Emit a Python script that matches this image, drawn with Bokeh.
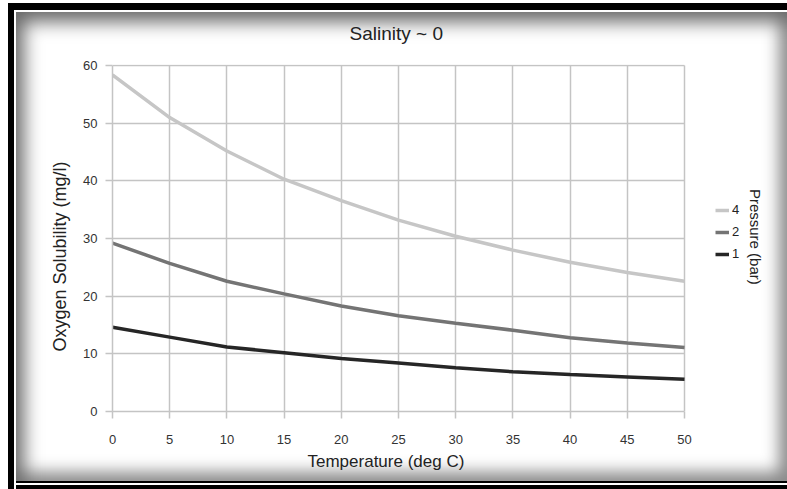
import math
from bokeh.plotting import figure
from bokeh.models import Legend, LegendItem, Label, Title, FixedTicker, Range1d
from bokeh.embed import file_html
from bokeh.resources import INLINE

# ---- data ----
temperature = [0, 5, 10, 15, 20, 25, 30, 35, 40, 45, 50]
p4_bar = [58.4, 51.0, 45.2, 40.3, 36.6, 33.2, 30.4, 28.0, 25.9, 24.1, 22.6]
p2_bar = [29.2, 25.7, 22.6, 20.4, 18.3, 16.6, 15.3, 14.1, 12.8, 11.9, 11.1]
p1_bar = [14.6, 12.9, 11.2, 10.2, 9.2, 8.4, 7.6, 6.9, 6.4, 6.0, 5.6]
series_names = ["4", "2", "1"]
x_ticks = [0, 5, 10, 15, 20, 25, 30, 35, 40, 45, 50]
y_ticks = [0, 10, 20, 30, 40, 50, 60]

FONT = "Liberation Sans"
GRID = "#c4c4c4"

# the frame is widened past x=50 so that the legend (which sits outside the
# plotted area in the reference) is not clipped; grid/axis are bounded to 0..50
PLOT_W = 572          # pixels for 0..50
FRAME_W = 660
X_END = 50 * FRAME_W / PLOT_W

p = figure(width=787, height=489, frame_width=FRAME_W, frame_height=347,
           output_backend="svg", toolbar_location=None,
           x_range=Range1d(0, X_END), y_range=Range1d(0, 60.2),
           min_border_left=112, min_border_right=15,
           min_border_top=61, min_border_bottom=81)

p.border_fill_color = None
p.background_fill_color = None
p.outline_line_color = None
p.styles = {
    "background-color": "white",
    "box-shadow": ", ".join([
        "inset 8px 3px 0 0 #fff",
        "inset 14px 10px 0 0 #000",
        "inset 16px 12px 0 0 #fff",
        "inset 0 -7px 0 0 #000",
        "inset 0 -9px 0 0 #fff",
        "inset 0 -11px 0 0 #000",
        "inset 24px 22px 18px 0 #6a6a6a",
        "inset -8px -20px 16px 0 #8a8a8a",
    ]),
}

p.title.text = "Salinity ~ 0"
p.title.align = "left"
p.title.offset = 237
p.title.text_font = FONT
p.title.text_font_size = "19px"
p.title.text_font_style = "normal"
p.title.text_color = "#222222"
p.title.standoff = 41

p.xgrid.cross_bounds = (0, 60)
p.ygrid.cross_bounds = (0, 50)
for g in (p.xgrid, p.ygrid):
    g.grid_line_color = GRID
    g.grid_line_width = 1.5

for ax in (p.xaxis, p.yaxis):
    ax.axis_line_color = GRID
    ax.axis_line_width = 1.5
    ax.major_tick_line_color = GRID
    ax.major_tick_line_width = 1.5
    ax.major_tick_in = 0
    ax.major_tick_out = 7
    ax.minor_tick_line_color = None
    ax.major_label_text_font = FONT
    ax.major_label_text_font_size = "13px"
    ax.major_label_text_color = "#333333"

p.xaxis.bounds = (0, 50)
p.yaxis.bounds = (0, 60)
p.xaxis.ticker = FixedTicker(ticks=x_ticks)
p.yaxis.ticker = FixedTicker(ticks=y_ticks)
p.xaxis.major_label_standoff = 16
p.yaxis.major_label_standoff = 8

# axis titles (as side titles so they can be centred on the 0..50 part)
xt = Title(text="Temperature (deg C)", align="left", offset=195,
           text_font=FONT, text_font_size="17px", text_font_style="normal",
           text_color="#222222", standoff=6)
p.add_layout(xt, "below")
yt = Title(text="Oxygen Solubility (mg/l)", align="left", offset=60,
           text_font=FONT, text_font_size="18px", text_font_style="normal",
           text_color="#222222", standoff=22)
p.add_layout(yt, "left")

r4 = p.line(temperature, p4_bar, line_color="#c6c6c6", line_width=3.5)
r2 = p.line(temperature, p2_bar, line_color="#747474", line_width=3.5)
r1 = p.line(temperature, p1_bar, line_color="#262626", line_width=3.5)

legend = Legend(items=[LegendItem(label=series_names[0], renderers=[r4]),
                       LegendItem(label=series_names[1], renderers=[r2]),
                       LegendItem(label=series_names[2], renderers=[r1])],
                location=(603, 150))
legend.background_fill_alpha = 0
legend.border_line_color = None
legend.label_text_font = FONT
legend.label_text_font_size = "13px"
legend.label_text_color = "#222222"
legend.glyph_width = 14
legend.glyph_height = 14
legend.label_standoff = 3
legend.spacing = 7
legend.margin = 0
legend.padding = 0
legend.label_height = 14
p.add_layout(legend, "center")

# rotated legend title "Pressure (bar)" to the right of the legend entries
px_per_x = PLOT_W / 50
lt = Label(x=(755 - 112) / px_per_x, y=30.3, text="Pressure (bar)",
           angle=-math.pi / 2, text_align="center", text_baseline="middle",
           text_font=FONT, text_font_size="15px", text_color="#222222")
p.add_layout(lt)

open("out.html", "w").write(file_html(p, INLINE))
